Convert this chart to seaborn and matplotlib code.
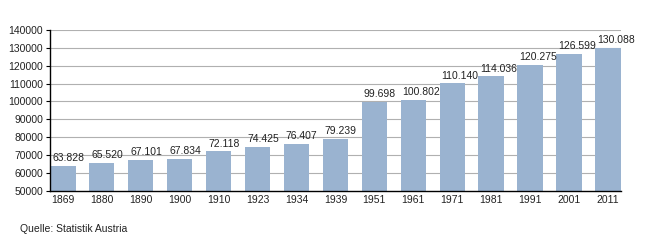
import matplotlib
matplotlib.use("Agg")
import matplotlib.pyplot as plt
import seaborn as sns
import pandas as pd

years = ["1869", "1880", "1890", "1900", "1910", "1923", "1934", "1939",
         "1951", "1961", "1971", "1981", "1991", "2001", "2011"]
population = [63828, 65520, 67101, 67834, 72118, 74425, 76407, 79239,
              99698, 100802, 110140, 114036, 120275, 126599, 130088]
value_labels = ["63.828", "65.520", "67.101", "67.834", "72.118", "74.425", "76.407",
                "79.239", "99.698", "100.802", "110.140", "114.036", "120.275",
                "126.599", "130.088"]
y_ticks = [50000, 60000, 70000, 80000, 90000, 100000, 110000, 120000, 130000, 140000]
source_text = "Quelle: Statistik Austria"

sns.set_theme(style="white")
plt.rcParams["font.family"] = ["Liberation Sans", "DejaVu Sans"]

df = pd.DataFrame({"year": years, "pop": population})

fig = plt.figure(figsize=(6.5, 2.4), dpi=100)
ax = fig.add_axes([0.077, 0.205, 0.878, 0.67])

for yv in y_ticks[1:]:
    ax.axhline(yv, color="#b0b0b0", linewidth=0.8, zorder=0)

sns.barplot(data=df, x="year", y="pop", color="#9ab3d0", saturation=1,
            width=0.65, ax=ax, zorder=3, edgecolor="none")

ax.set_ylim(50000, 140000)
ax.set_yticks(y_ticks)
ax.set_yticklabels([str(v) for v in y_ticks], fontsize=7.5, color="#222222")
ax.tick_params(axis="x", labelsize=7.5, colors="#222222", length=0, pad=3)
ax.tick_params(axis="y", length=3, width=0.8, color="black", pad=2, left=True)
ax.set_xlabel("")
ax.set_ylabel("")
ax.grid(False)
for s in ["top", "right"]:
    ax.spines[s].set_visible(False)
for s in ["left", "bottom"]:
    ax.spines[s].set_color("black")
    ax.spines[s].set_linewidth(1.0)
    ax.spines[s].set_zorder(5)
ax.set_xlim(-0.33, len(years) - 1 + 0.33)

for i, bar in enumerate(ax.patches):
    h = bar.get_height()
    ax.annotate(value_labels[i], (bar.get_x(), h),
                xytext=(1.5, 2), textcoords="offset points",
                ha="left", va="bottom", fontsize=7.5, color="#222222", zorder=6)

fig.text(20 / 650, 1 - 229 / 240, source_text, fontsize=7.5, color="#222222",
         ha="left", va="center")

fig.savefig("out.png", dpi=100, facecolor="white")
